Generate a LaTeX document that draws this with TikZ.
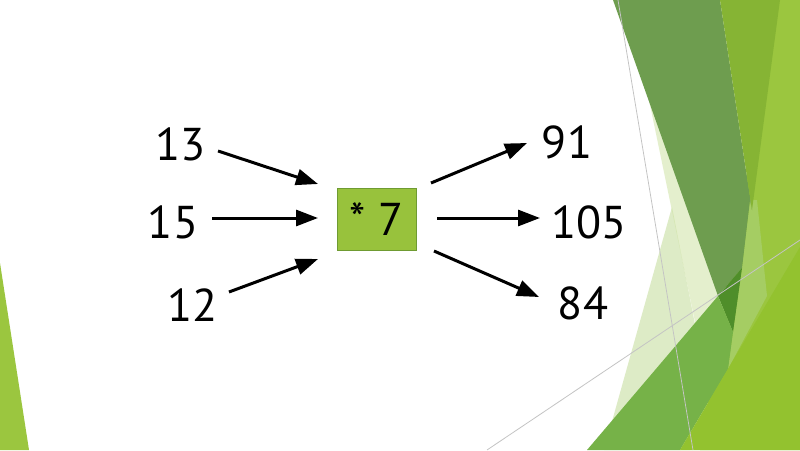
\documentclass[tikz,border=0pt]{standalone}
\usepackage{fontspec}
\setmainfont{PT Sans}
\usetikzlibrary{arrows.meta}
\definecolor{paleA}{HTML}{DDEBC6}
\definecolor{paleB}{HTML}{CFE3A4}
\definecolor{bright}{HTML}{9BC63F}
\definecolor{yellowgreen}{HTML}{86B434}
\definecolor{muted}{HTML}{6E9D4F}
\definecolor{deepgreen}{HTML}{4F8E2A}
\definecolor{mediumgreen}{HTML}{76B248}
\definecolor{brightlow}{HTML}{93C22F}
\definecolor{lightband}{HTML}{A5CD63}
\definecolor{boxfill}{HTML}{98C23C}
\definecolor{boxline}{HTML}{6F9B32}
\definecolor{thinline}{HTML}{C4C4C4}
\begin{document}
\begin{tikzpicture}[x=1pt,y=-1pt,
  num/.style={anchor=base, inner sep=0pt, font=\fontsize{46}{48}\selectfont},
  opbox/.style={draw=boxline, line width=1pt, fill=boxfill, minimum width=79pt, minimum height=62pt, inner sep=0pt, font=\fontsize{46}{48}\selectfont},
  arr/.style={line width=3pt, -{Triangle[length=22pt,width=16pt]}}]
\fill[white] (0,0) rectangle (800,450);
\useasboundingbox (0,0) rectangle (800,450);
% decoration, right side
\fill[bright] (776,0) -- (800,0) -- (800,450) -- (700,450) -- cycle;
\fill[paleA] (672,207) -- (702,360) -- (690,450) -- (604,450) -- cycle;
\fill[paleB, opacity=0.55] (649,100) -- (733,332) -- (705,370) -- cycle;
\fill[lightband] (750,200) -- (757,200) -- (767,296) -- (728,369) -- (733,332) -- (742,268) -- cycle;
\fill[muted] (613,0) -- (720,0) -- (752,210) -- (750,200) -- (742,268) -- (718,296) -- cycle;
\fill[yellowgreen] (720,0) -- (780,0) -- (752,210) -- cycle;
\fill[deepgreen] (718,296) -- (742,268) -- (733,332) -- cycle;
\fill[mediumgreen] (587,450) -- (718,296) -- (733,332) -- (728,369) -- (680,450) -- cycle;
\fill[brightlow] (680,450) -- (800,247) -- (800,450) -- cycle;
\draw[thinline, line width=0.8pt] (618,0) -- (693,450);
\draw[thinline, line width=0.8pt] (487,450) -- (800,240);
% decoration, left side
\fill[bright] (0,263) -- (29,450) -- (0,450) -- cycle;
% nodes
\node[num] (n13) at (180.5,160) {13};
\node[num] (n15) at (173,238) {15};
\node[num] (n12) at (192.5,321) {12};
\node[num] (n91) at (567,158) {91};
\node[num] (n105) at (589,238) {105};
\node[num] (n84) at (583,319) {84};
\node[opbox] (box) at (376.5,219) {* 7};
% arrow end points
\coordinate (s13) at (218,151);  \coordinate (e13) at (318,184);
\coordinate (s15) at (212,218);  \coordinate (e15) at (318,218);
\coordinate (s12) at (229,292);  \coordinate (e12) at (318,259);
\coordinate (s91) at (431,183);  \coordinate (e91) at (527,143);
\coordinate (s105) at (437,218); \coordinate (e105) at (540,218);
\coordinate (s84) at (434,251);  \coordinate (e84) at (539,297);
\draw[arr] (s13) -- (e13);
\draw[arr] (s15) -- (e15);
\draw[arr] (s12) -- (e12);
\draw[arr] (s91) -- (e91);
\draw[arr] (s105) -- (e105);
\draw[arr] (s84) -- (e84);
\end{tikzpicture}
\end{document}
